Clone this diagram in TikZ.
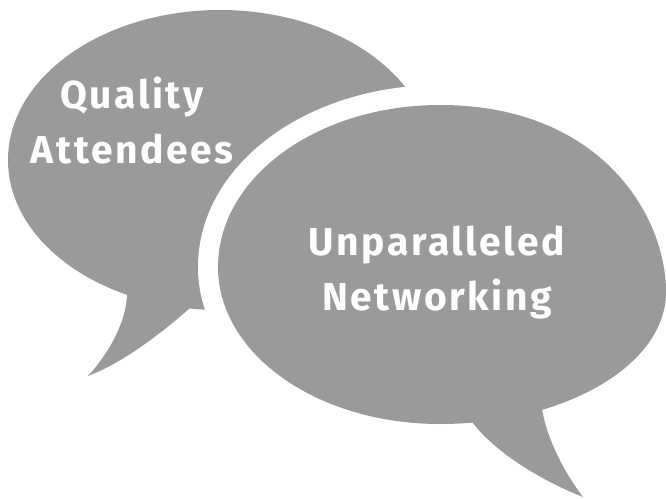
\documentclass[tikz,border=0pt]{standalone}
\usepackage{fontspec}
\setmainfont{Fira Sans}[LetterSpace=6.5]
\definecolor{bubblegray}{RGB}{154,154,156}
\begin{document}
\begin{tikzpicture}[x=1pt,y=-1pt,
  bubble/.style={fill=bubblegray},
  gapband/.style={draw=white,line width=40pt,line join=round},
  lbl/.style={text=white,font=\fontsize{39}{47}\selectfont\bfseries,anchor=base,inner sep=0pt}]
\useasboundingbox (0,0) rectangle (666,498);
% left bubble: body and tail
\fill[bubble] (220,160) ellipse [x radius=212, y radius=150];
\fill[bubble] (127,280) -- (190,280) -- (190,308)
  .. controls (165,330) and (125,362) .. (88,376)
  .. controls (110,352) and (127,320) .. (127,293) -- cycle;
% right bubble body outline
\def\rightbody{(218,267) .. controls (218,177.5) and (317,105) .. (440,105)
  .. controls (600,105) and (666,215) .. (666,292)
  .. controls (666,365) and (565,424) .. (440,424)
  .. controls (317,424) and (218,354) .. (218,267) -- cycle}
\draw[gapband] \rightbody;
\fill[bubble] \rightbody;
% right bubble tail
\fill[bubble] (463,410) -- (473,423)
  .. controls (495,452) and (540,480) .. (583,497)
  .. controls (566,475) and (547,440) .. (542,409) -- (542,395) -- cycle;
% texts
\node[lbl] (q1) at (132,108) {Quality};
\node[lbl] (q2) at (132,163) {Attendees};
\node[lbl] (u1) at (437,255) {Unparalleled};
\node[lbl] (u2) at (437,310) {Networking};
\end{tikzpicture}
\end{document}
